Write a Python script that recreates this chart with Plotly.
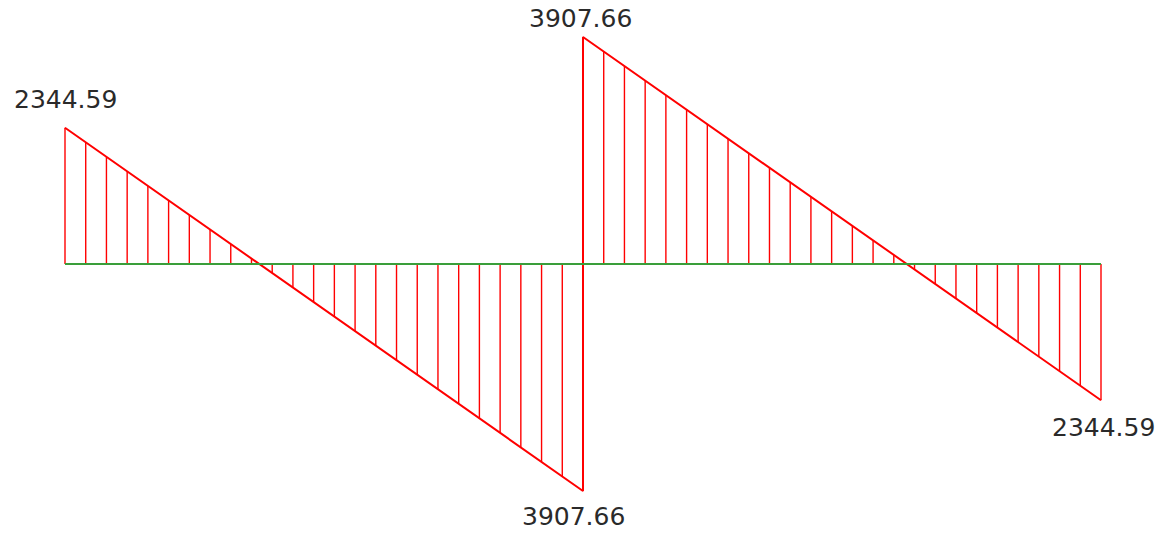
import plotly.graph_objects as go

# Data: shear force diagram of a two-span beam
span_length = 6.0          # m, each span
n_div = 25                 # divisions per span (hatch lines)
v_left_start = 2344.59     # shear at left support
v_left_end = -3907.66      # shear just left of middle support
v_right_start = 3907.66    # shear just right of middle support
v_right_end = -2344.59     # shear at right support
label_texts = ["2344.59", "3907.66", "3907.66", "2344.59"]

L = span_length
total = 2 * L

def shear(x, v0, v1, x0):
    return v0 + (v1 - v0) * (x - x0) / L

# Hatch lines
hx, hy = [], []
for i in range(n_div + 1):
    x = i * L / n_div
    hx += [x, x, None]
    hy += [0, shear(x, v_left_start, v_left_end, 0), None]
for i in range(n_div + 1):
    x = L + i * L / n_div
    hx += [x, x, None]
    hy += [0, shear(x, v_right_start, v_right_end, L), None]

fig = go.Figure()
fig.add_trace(go.Scatter(x=hx, y=hy, mode="lines",
                         line=dict(color="#ff0000", width=1.4),
                         hoverinfo="skip", showlegend=False))
fig.add_trace(go.Scatter(x=[0, L, L, total],
                         y=[v_left_start, v_left_end, v_right_start, v_right_end],
                         mode="lines", line=dict(color="#ff0000", width=2),
                         hoverinfo="skip", showlegend=False))
fig.add_trace(go.Scatter(x=[0, total], y=[0, 0], mode="lines",
                         line=dict(color="#3a9e3a", width=2),
                         hoverinfo="skip", showlegend=False))

font = dict(family="DejaVu Sans", size=25, color="#2a2a2a")
label_pts = [(0, v_left_start, 28), (L, v_right_start, 19),
             (L, v_left_end, -25), (total, v_right_end, -27)]
xshifts = [0, -3, -10, 2]
for (x, y, ys), t, xs in zip(label_pts, label_texts, xshifts):
    fig.add_annotation(x=x, y=y, text=t, showarrow=False, font=font,
                       xanchor="center", yanchor="middle", yshift=ys, xshift=xs,
                       borderpad=0)

W, H = 1168, 533
x0_px, x1_px = 65, 1101
ppu_x = (x1_px - x0_px) / total
base_px = 264
ppu_y = 227 / 3907.66
fig.update_layout(
    width=W, height=H, margin=dict(l=0, r=0, t=0, b=0),
    paper_bgcolor="white", plot_bgcolor="white",
    xaxis=dict(range=[-x0_px / ppu_x, (W - x0_px) / ppu_x], visible=False, fixedrange=True),
    yaxis=dict(range=[-(H - base_px) / ppu_y, base_px / ppu_y], visible=False, fixedrange=True),
)
fig.write_html("out.html", config={"displayModeBar": False},
               post_script="document.body.style.margin='0';document.body.style.overflow='hidden';")
